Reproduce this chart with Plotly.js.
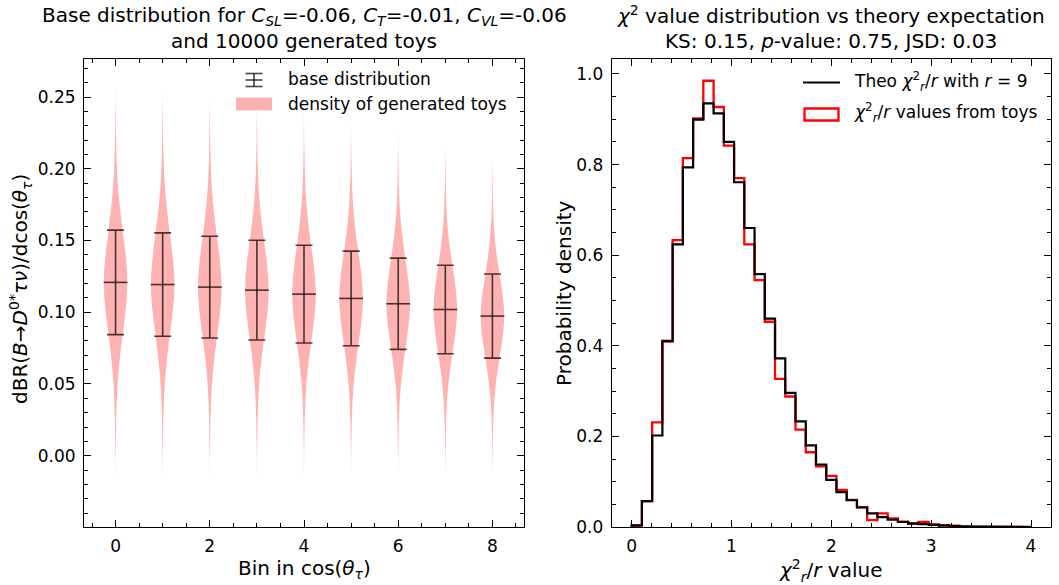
<!DOCTYPE html>
<html>
<head>
<meta charset="utf-8">
<script src="https://cdn.plot.ly/plotly-3.0.1.min.js"></script>
<style>html,body{margin:0;padding:0;background:#fff;}#chart{width:1059px;height:585px;}</style>
</head>
<body>
<div id="chart"></div>
<script>
// ---------- data: left panel (base distribution per bin) ----------
const binLabels = [0, 1, 2, 3, 4, 5, 6, 7, 8];
const baseValues = [0.1208, 0.1193, 0.1175, 0.1154, 0.1126, 0.1096, 0.1059, 0.1019, 0.0973];
const baseErrors = [0.0364, 0.0360, 0.0355, 0.0348, 0.0341, 0.0330, 0.0318, 0.0308, 0.0293];
// violin outline: offset (in units of the bin error) and relative half-width
const violinOffsets = [-3.7, -3.2, -2.6, -2.0, -1.5, -1.0, -0.5, 0.0, 0.5, 1.0, 1.5, 2.0, 2.6, 3.2, 3.8];
const violinWidths  = [0.0, 0.02, 0.06, 0.16, 0.34, 0.6, 0.87, 1.0, 0.87, 0.6, 0.34, 0.16, 0.06, 0.02, 0.0];

// ---------- data: right panel (chi2/r histograms) ----------
const chiEdges = [0, 0.1026, 0.2051, 0.3077, 0.4103, 0.5128, 0.6154, 0.7179, 0.8205, 0.9231,
  1.0256, 1.1282, 1.2308, 1.3333, 1.4359, 1.5385, 1.6410, 1.7436, 1.8462, 1.9487,
  2.0513, 2.1538, 2.2564, 2.3590, 2.4615, 2.5641, 2.6667, 2.7692, 2.8718, 2.9744,
  3.0769, 3.1795, 3.2821, 3.3846, 3.4872, 3.5897, 3.6923, 3.7949, 3.8974, 4.0];
const theoDensity = [0.003, 0.057, 0.202, 0.411, 0.624, 0.794, 0.899, 0.935, 0.913, 0.850,
  0.761, 0.660, 0.558, 0.460, 0.372, 0.296, 0.233, 0.180, 0.138, 0.104,
  0.077, 0.059, 0.043, 0.030, 0.022, 0.016, 0.011, 0.008, 0.0065, 0.0045,
  0.003, 0.002, 0.0015, 0.001, 0.0007, 0.0005, 0.0003, 0.0002, 0.0001];
const toyDensity = [0.004, 0.057, 0.231, 0.409, 0.633, 0.814, 0.902, 0.985, 0.927, 0.842,
  0.770, 0.624, 0.545, 0.453, 0.327, 0.288, 0.215, 0.165, 0.134, 0.113,
  0.082, 0.060, 0.044, 0.015, 0.030, 0.019, 0.012, 0.007, 0.011, 0.006,
  0.004, 0.003, 0.0, 0.0, 0.0, 0.0, 0.0, 0.0, 0.0];

// ---------- styling ----------
const FONT = 'DejaVu Sans';
const W = 1059, H = 585;
const violinHalf = 0.25;
const violinFill = 'rgba(255,0,0,0.3)';
const errColor = 'rgba(0,0,0,0.72)';
const px = v => v / W;
const py = v => 1 - v / H;

const traces = [];

// violins
binLabels.forEach((b, i) => {
  const xs = [], ys = [];
  violinOffsets.forEach((o, k) => { xs.push(b + violinHalf * violinWidths[k]); ys.push(baseValues[i] + o * baseErrors[i]); });
  for (let k = violinOffsets.length - 1; k >= 0; k--) { xs.push(b - violinHalf * violinWidths[k]); ys.push(baseValues[i] + violinOffsets[k] * baseErrors[i]); }
  traces.push({
    type: 'scatter', mode: 'lines', x: xs, y: ys, fill: 'toself', fillcolor: violinFill,
    line: {width: 0, shape: 'spline', smoothing: 1, color: violinFill}, hoverinfo: 'skip',
    xaxis: 'x', yaxis: 'y'
  });
});

// error bars of base distribution
traces.push({
  type: 'scatter', mode: 'markers', x: binLabels, y: baseValues,
  error_y: {type: 'data', array: baseErrors, visible: true, color: errColor, thickness: 1.6, width: 8.5},
  marker: {symbol: 'line-ew', size: 17, color: errColor, line: {width: 1.6, color: errColor}},
  xaxis: 'x', yaxis: 'y'
});

// step histograms
function stepXY(edges, vals) {
  const xs = [edges[0]], ys = [0];
  vals.forEach((v, i) => { xs.push(edges[i], edges[i + 1]); ys.push(v, v); });
  xs.push(edges[edges.length - 1]); ys.push(0);
  return {xs, ys};
}
const toyStep = stepXY(chiEdges, toyDensity);
const theoStep = stepXY(chiEdges, theoDensity);
traces.push({type: 'scatter', mode: 'lines', x: toyStep.xs, y: toyStep.ys,
  line: {color: '#ff0000', width: 2.3}, xaxis: 'x2', yaxis: 'y2'});
traces.push({type: 'scatter', mode: 'lines', x: theoStep.xs, y: theoStep.ys,
  line: {color: '#000000', width: 2.2}, xaxis: 'x2', yaxis: 'y2'});

// ---------- axes ----------
const yDom = [58 / H, 526 / H];
function axisBase(extra) {
  return Object.assign({
    showline: true, linecolor: '#000', linewidth: 1, mirror: 'allticks',
    ticks: 'inside', ticklen: 7, tickwidth: 1, tickcolor: '#000',
    showgrid: false, zeroline: false,
    tickfont: {family: FONT, size: 17, color: '#000'}
  }, extra);
}

const ann = [];
function text(t, x, y, opts) {
  ann.push(Object.assign({text: t, x: px(x), y: py(y), xref: 'paper', yref: 'paper', showarrow: false,
    xanchor: 'center', yanchor: 'middle', font: {family: FONT, size: 17, color: '#000'}}, opts || {}));
}
const big = {family: FONT, size: 20, color: '#000'};
// titles
text('Base distribution for <i>C</i><sub><i>SL</i></sub>=-0.06, <i>C</i><sub><i>T</i></sub>=-0.01, <i>C</i><sub><i>VL</i></sub>=-0.06', 304, 16, {font: big});
text('and 10000 generated toys', 304, 41, {font: big});
text('<i>χ</i><sup>2</sup> value distribution vs theory expectation', 831, 15, {font: big});
text('KS: 0.15, <i>p</i>-value: 0.75, JSD: 0.03', 831, 41, {font: big});
// axis titles
text('Bin in cos(<i>θ</i><sub><i>τ</i></sub>)', 304, 569, {font: big});
text('<i>χ</i><sup>2</sup><sub><i>r</i></sub>/<i>r</i> value', 831, 570, {font: big});
text('dBR(<i>B</i>→<i>D</i><sup>0*</sup><i>τν</i>)/dcos(<i>θ</i><sub><i>τ</i></sub>)', 20, 289, {textangle: -90, font: big});
text('Probability density', 564, 293, {textangle: -90, font: big});
// legends text
text('base distribution', 286, 79, {xanchor: 'left'});
text('density of generated toys', 286, 104, {xanchor: 'left'});
text('Theo <i>χ</i><sup>2</sup><sub><i>r</i></sub>/<i>r</i> with <i>r</i> = 9', 852, 82, {xanchor: 'left'});
text('<i>χ</i><sup>2</sup><sub><i>r</i></sub>/<i>r</i> values from toys', 852, 113, {xanchor: 'left'});

const shp = [];
function line(x0, y0, x1, y1, color, w) {
  shp.push({type: 'line', xref: 'paper', yref: 'paper', x0: px(x0), y0: py(y0), x1: px(x1), y1: py(y1), line: {color: color, width: w}});
}
// errorbar legend glyph
line(254, 73.5, 254, 86.5, errColor, 1.6);
line(245.5, 73.5, 262.5, 73.5, errColor, 1.6);
line(245.5, 86.5, 262.5, 86.5, errColor, 1.6);
line(245.5, 80, 262.5, 80, errColor, 1.6);
// violin legend patch
shp.push({type: 'rect', xref: 'paper', yref: 'paper', x0: px(236), x1: px(272), y0: py(97.5), y1: py(110.5), fillcolor: violinFill, line: {width: 0}});
// right legend glyphs
line(803, 82.5, 840, 82.5, '#000', 2.2);
shp.push({type: 'rect', xref: 'paper', yref: 'paper', x0: px(804.5), x1: px(838.5), y0: py(108.5), y1: py(120.5), fillcolor: 'rgba(0,0,0,0)', line: {color: '#ff0000', width: 2.3}});

const layout = {
  width: W, height: H, margin: {l: 0, r: 0, t: 0, b: 0},
  paper_bgcolor: '#fff', plot_bgcolor: '#fff', showlegend: false,
  font: {family: FONT, size: 17, color: '#000'},
  xaxis: axisBase({domain: [84 / W, 524 / W], range: [-0.67, 8.67], tick0: 0, dtick: 2, anchor: 'y',
    ticklabelstandoff: 4,
    minor: {ticks: 'inside', ticklen: 4, tickwidth: 1, tickcolor: '#000', dtick: 0.5, tick0: 0}}),
  yaxis: axisBase({domain: yDom, range: [-0.0497, 0.2765], tick0: 0, dtick: 0.05, tickformat: '.2f', anchor: 'x',
    ticklabelstandoff: 4,
    minor: {ticks: 'inside', ticklen: 4, tickwidth: 1, tickcolor: '#000', dtick: 0.01, tick0: 0}}),
  xaxis2: axisBase({domain: [611.7 / W, 1051 / W], range: [-0.2, 4.2], tick0: 0, dtick: 1, anchor: 'y2',
    ticklabelstandoff: 4,
    minor: {ticks: 'inside', ticklen: 4, tickwidth: 1, tickcolor: '#000', dtick: 0.2, tick0: 0}}),
  yaxis2: axisBase({domain: yDom, range: [0, 1.033], tick0: 0, dtick: 0.2, tickformat: '.1f', anchor: 'x2',
    ticklabelstandoff: 4,
    minor: {ticks: 'inside', ticklen: 4, tickwidth: 1, tickcolor: '#000', dtick: 0.05, tick0: 0}}),
  annotations: ann,
  shapes: shp
};

Plotly.newPlot('chart', traces, layout, {displayModeBar: false, staticPlot: true});
</script>
</body>
</html>
